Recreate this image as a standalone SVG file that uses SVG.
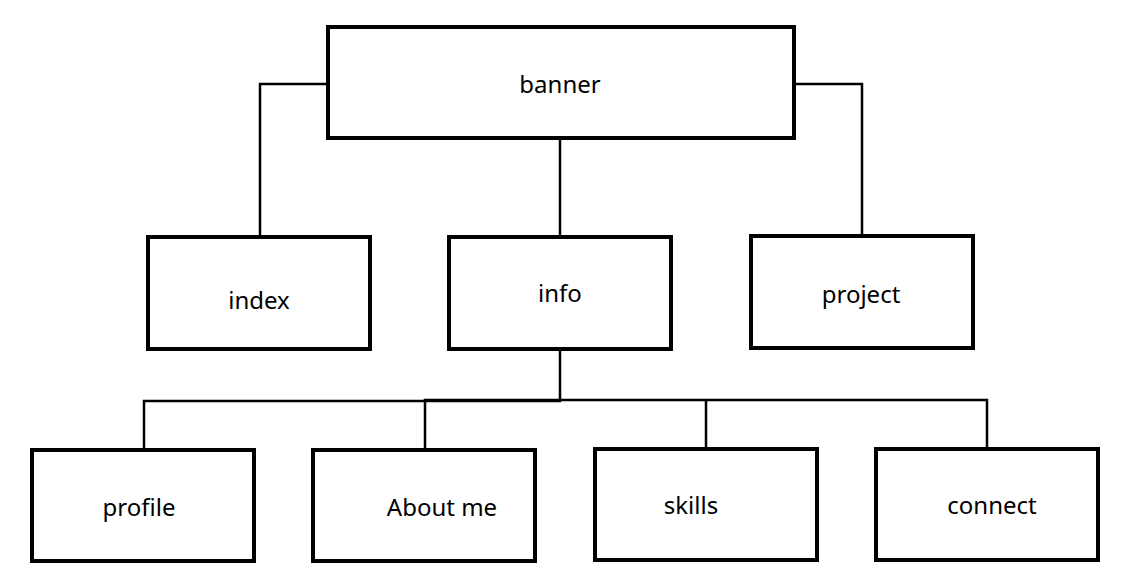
<svg xmlns="http://www.w3.org/2000/svg" width="1133" height="588" viewBox="0 0 1133 588">
  <style>
    .box { fill: #ffffff; stroke: #000000; stroke-width: 4; }
    .link { fill: none; stroke: #000000; stroke-width: 2.5; }
    .label { font-family: "Noto Sans", "Open Sans", sans-serif; font-size: 24px; fill: #000000; text-anchor: middle; }
  </style>
  <rect width="1133" height="588" fill="#ffffff"/>

  <!-- connectors -->
  <g id="connectors">
    <polyline class="link" points="328,84 260,84 260,237"/>
    <polyline class="link" points="794,84 862,84 862,236"/>
    <line class="link" x1="560" y1="138" x2="560" y2="237"/>
    <polyline class="link" points="560,349 560,401 144,401 144,450"/>
    <polyline class="link" points="425,450 425,400 987,400 987,449"/>
    <line class="link" x1="706" y1="400" x2="706" y2="449"/>
  </g>

  <g id="banner">
    <rect class="box" x="328" y="27" width="466" height="111"/>
    <text class="label" x="560" y="93">banner</text>
  </g>

  <g id="index">
    <rect class="box" x="148" y="237" width="222" height="112"/>
    <text class="label" x="259" y="309">index</text>
  </g>

  <g id="info">
    <rect class="box" x="449" y="237" width="222" height="112"/>
    <text class="label" x="560" y="302">info</text>
  </g>

  <g id="project">
    <rect class="box" x="751" y="236" width="222" height="112"/>
    <text class="label" x="861" y="303">project</text>
  </g>

  <g id="profile">
    <rect class="box" x="32" y="450" width="222" height="111"/>
    <text class="label" x="139" y="516">profile</text>
  </g>

  <g id="about-me">
    <rect class="box" x="313" y="450" width="222" height="111"/>
    <text class="label" x="442" y="516">About me</text>
  </g>

  <g id="skills">
    <rect class="box" x="595" y="449" width="222" height="111"/>
    <text class="label" x="691" y="514">skills</text>
  </g>

  <g id="connect">
    <rect class="box" x="876" y="449" width="222" height="111"/>
    <text class="label" x="992" y="514">connect</text>
  </g>
</svg>
